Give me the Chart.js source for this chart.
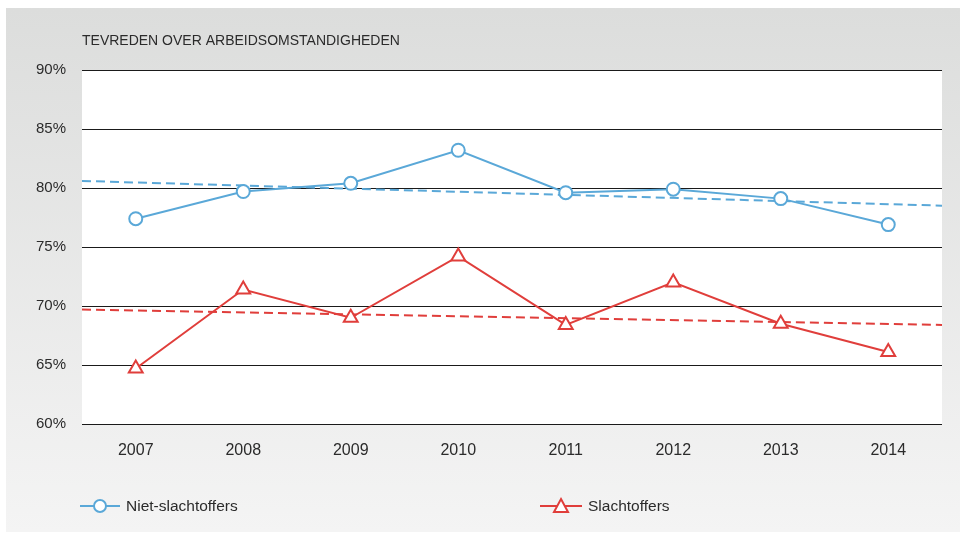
<!DOCTYPE html>
<html>
<head>
    <title>Tevreden over arbeidsomstandigheden</title>
    <script src="https://cdn.jsdelivr.net/npm/chart.js"></script>
    <style>body { margin: 0; background: #fff; }</style>
</head>
<body>
    <canvas id="myChart" width="960" height="533"></canvas>

    <script>
        // values
        const years = ['2007', '2008', '2009', '2010', '2011', '2012', '2013', '2014'];
        const nietSlachtoffers = [77.4, 79.7, 80.4, 83.2, 79.6, 79.9, 79.1, 76.9];
        const slachtoffers = [64.7, 71.4, 69.0, 74.2, 68.4, 72.0, 68.5, 66.1];
        // trend lines: value at left edge and right edge of the plot
        const trendNiet = [80.6, 78.5];
        const trendSlacht = [69.7, 68.4];
        const yMin = 60, yMax = 90, yStep = 5;

        const BLUE = '#5aa8d8';
        const RED = '#e03e3b';
        const FONT = "'Liberation Sans', Arial, sans-serif";
        const TEXT = '#2b2b2b';

        const pts = vals => vals.map((v, i) => ({ x: i + 1, y: v }));
        const edge = vals => [{ x: 0.5, y: vals[0] }, { x: years.length + 0.5, y: vals[1] }];

        const background = {
            id: 'background',
            beforeDraw(chart) {
                const c = chart.ctx, a = chart.chartArea;
                c.save();
                c.fillStyle = '#fff';
                c.fillRect(0, 0, chart.width, chart.height);
                const g = c.createLinearGradient(0, 8, 0, 532);
                g.addColorStop(0, '#dcdddc');
                g.addColorStop(1, '#f4f4f4');
                c.fillStyle = g;
                c.fillRect(6, 8, chart.width - 6, 524);
                c.fillStyle = '#fff';
                c.fillRect(a.left, a.top, a.right - a.left, a.bottom - a.top);
                c.restore();
            },
            afterDraw(chart) {
                const c = chart.ctx;
                c.save();
                c.fillStyle = TEXT;
                c.font = '14px ' + FONT;
                c.textBaseline = 'middle';
                c.fillText('TEVREDEN OVER ARBEIDSOMSTANDIGHEDEN', chart.chartArea.left, 41);

                // legend
                const y = 506;
                c.lineWidth = 2;
                c.strokeStyle = BLUE;
                c.beginPath(); c.moveTo(80, y); c.lineTo(120, y); c.stroke();
                c.fillStyle = '#fff';
                c.beginPath(); c.arc(100, y, 6, 0, Math.PI * 2); c.fill(); c.stroke();

                c.strokeStyle = RED;
                c.beginPath(); c.moveTo(540, y); c.lineTo(582, y); c.stroke();
                c.beginPath();
                c.moveTo(561, y - 7); c.lineTo(568, y + 6); c.lineTo(554, y + 6); c.closePath();
                c.fill(); c.stroke();

                c.fillStyle = TEXT;
                c.font = '15.5px ' + FONT;
                c.fillText('Niet-slachtoffers', 126, y + 1);
                c.fillText('Slachtoffers', 588, y + 1);
                c.restore();
            }
        };

        const ctx = document.getElementById('myChart').getContext('2d');
        const chart = new Chart(ctx, {
            type: 'line',
            data: {
                datasets: [
                    {
                        label: 'Niet-slachtoffers',
                        data: pts(nietSlachtoffers),
                        borderColor: BLUE,
                        borderWidth: 2,
                        pointStyle: 'circle',
                        pointRadius: 6.5,
                        pointBorderWidth: 2,
                        pointBackgroundColor: '#fff',
                        pointBorderColor: BLUE
                    },
                    {
                        label: 'Slachtoffers',
                        data: pts(slachtoffers),
                        borderColor: RED,
                        borderWidth: 2,
                        pointStyle: 'triangle',
                        pointRadius: 8,
                        pointBorderWidth: 2,
                        pointBackgroundColor: '#fff',
                        pointBorderColor: RED
                    },
                    {
                        label: 'Trend niet-slachtoffers',
                        data: edge(trendNiet),
                        borderColor: BLUE,
                        borderWidth: 2,
                        borderDash: [9, 5],
                        pointRadius: 0
                    },
                    {
                        label: 'Trend slachtoffers',
                        data: edge(trendSlacht),
                        borderColor: RED,
                        borderWidth: 2,
                        borderDash: [9, 5],
                        pointRadius: 0
                    }
                ]
            },
            options: {
                responsive: false,
                animation: false,
                devicePixelRatio: 1,
                layout: { padding: { top: 70, right: 18, left: 0, bottom: 0 } },
                plugins: {
                    legend: { display: false },
                    title: { display: false },
                    tooltip: { enabled: false }
                },
                scales: {
                    x: {
                        type: 'linear',
                        min: 0.5,
                        max: years.length + 0.5,
                        afterBuildTicks: s => { s.ticks = years.map((y, i) => ({ value: i + 1 })); },
                        afterFit: s => { s.height = 109; },
                        grid: { display: false },
                        border: { display: false },
                        ticks: {
                            callback: v => years[v - 1],
                            color: TEXT,
                            font: { family: FONT, size: 16 },
                            padding: 9,
                            maxRotation: 0
                        }
                    },
                    y: {
                        min: yMin,
                        max: yMax,
                        afterFit: s => { s.width = 82; },
                        grid: { color: '#1a1a1a', lineWidth: 1, drawTicks: false },
                        border: { display: false },
                        ticks: {
                            stepSize: yStep,
                            callback: v => v + '%',
                            color: TEXT,
                            font: { family: FONT, size: 15 },
                            padding: 16
                        }
                    }
                }
            },
            plugins: [background]
        });
    </script>
</body>
</html>
